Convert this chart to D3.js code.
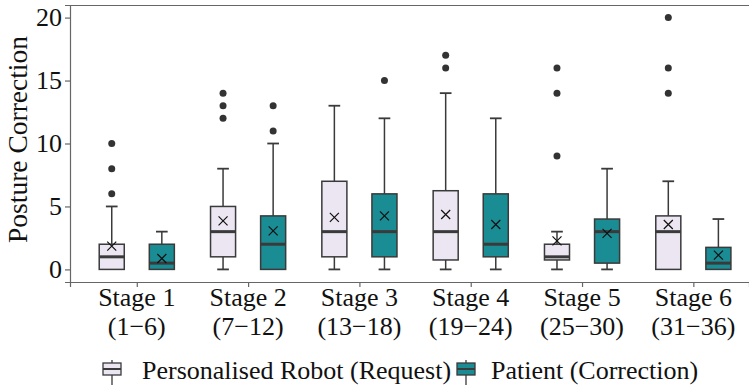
<!DOCTYPE html>
<html><head><meta charset="utf-8">
<script src="https://cdn.jsdelivr.net/npm/d3@7"></script>
</head><body style="margin:0"><svg id="c" width="749" height="386"></svg>
<script>
const stages = ["Stage 1|(1\u22126)","Stage 2|(7\u221212)","Stage 3|(13\u221218)","Stage 4|(19\u221224)","Stage 5|(25\u221230)","Stage 6|(31\u221236)"];
const seriesNames = ["Personalised Robot (Request)","Patient (Correction)"];
const seriesColors = ["#ebe6f2","#1a8c94"];
const yTicks = [0,5,10,15,20];
// [min whisker, Q1, median, Q3, max whisker, mean]
const robotStats = [
  [0,0,1,2,5,1.85],
  [0,1,3,5,8,3.86],
  [0,1,3,7,13,4.13],
  [0,0.75,3,6.25,14,4.36],
  [0,0.75,1,2,3,2.27],
  [0,0,3,4.25,7,3.57]
];
const robotOutliers = [[6,8,10],[12,13,14],[],[16,17],[9,14,16],[14,16,20]];
const patientStats = [
  [0,0,0.5,2,3,0.87],
  [0,0,2,4.25,10,3.06],
  [0,1,3,6,12,4.25],
  [0,1,2,6,12,3.57],
  [0,0.5,3,4,8,2.86],
  [0,0,0.5,1.75,4,1.13]
];
const patientOutliers = [[],[11,13],[15],[],[],[]];

const FONT="Liberation Serif";
const svg = d3.select("#c");
const L=70, R=749, T=5, B=282;
const x = d3.scaleLinear().domain([-0.6,5.5]).range([L,R]);
const y = d3.scaleLinear().domain([-1,21]).range([B,T]);
const unit = x(1)-x(0);
const off = 0.225*unit, bw = 0.225*unit, cap = 0.105*unit;
const edge="#3a3a3a";

function label(px,py,txt,size,anchor){
  return svg.append("text").attr("x",px).attr("y",py).attr("text-anchor",anchor)
    .style("font-family",FONT).style("font-size",size+"px").attr("fill","#111").text(txt);
}

// spines
svg.append("line").attr("x1",L).attr("x2",R).attr("y1",T+0.5).attr("y2",T+0.5).attr("stroke","#666").attr("stroke-width",1.2);
const yAxis = svg.append("g").attr("transform",`translate(${L},0)`).call(d3.axisLeft(y).tickValues(yTicks).tickSize(5).tickFormat(()=>""));
const xAxis = svg.append("g").attr("transform",`translate(0,${B})`).call(d3.axisBottom(x).tickValues(d3.range(stages.length)).tickSize(5).tickFormat(()=>""));
[yAxis,xAxis].forEach(g=>{g.select(".domain").attr("stroke","#666").attr("stroke-width",1.2);g.selectAll(".tick line").attr("stroke","#666").attr("stroke-width",1.2);});
yTicks.forEach(v=>label(L-8,y(v)+8.5,String(v),26,"end"));
stages.forEach((s,i)=>{
  const [a,b]=s.split("|");
  label(x(i),306,a,26,"middle");
  label(x(i),335,b,26,"middle");
});
svg.append("text").attr("transform",`translate(27,${(T+B)/2-4}) rotate(-90)`).attr("text-anchor","middle").style("font-family",FONT).style("font-size","27.5px").attr("fill","#111").text("Posture Correction");

function drawSeries(stats,outs,color,dir){
  const g=svg.append("g");
  stats.forEach((d,i)=>{
    const cx=x(i)+dir*off;
    const [mn,q1,md,q3,mx,mean]=d;
    if(mx>q3){g.append("line").attr("x1",cx).attr("x2",cx).attr("y1",y(q3)).attr("y2",y(mx)).attr("stroke",edge).attr("stroke-width",1.5);
      g.append("line").attr("x1",cx-cap/2).attr("x2",cx+cap/2).attr("y1",y(mx)).attr("y2",y(mx)).attr("stroke",edge).attr("stroke-width",1.8);}
    if(mn<q1){g.append("line").attr("x1",cx).attr("x2",cx).attr("y1",y(q1)).attr("y2",y(mn)).attr("stroke",edge).attr("stroke-width",1.5);
      g.append("line").attr("x1",cx-cap/2).attr("x2",cx+cap/2).attr("y1",y(mn)).attr("y2",y(mn)).attr("stroke",edge).attr("stroke-width",1.8);}
    g.append("rect").attr("x",cx-bw/2).attr("width",bw).attr("y",y(q3)).attr("height",y(q1)-y(q3)).attr("fill",color).attr("stroke",edge).attr("stroke-width",1.5);
    g.append("line").attr("x1",cx-bw/2).attr("x2",cx+bw/2).attr("y1",y(md)).attr("y2",y(md)).attr("stroke",edge).attr("stroke-width",3);
    const m=4.5, my=y(mean);
    g.append("path").attr("d",`M${cx-m},${my-m}L${cx+m},${my+m}M${cx-m},${my+m}L${cx+m},${my-m}`).attr("stroke","#111").attr("stroke-width",1.2).attr("fill","none");
    outs[i].forEach(v=>g.append("circle").attr("cx",cx).attr("cy",y(v)).attr("r",3.5).attr("fill","#333"));
  });
}
drawSeries(robotStats,robotOutliers,seriesColors[0],-1);
drawSeries(patientStats,patientOutliers,seriesColors[1],1);

// legend
const leg=[{x:103,tx:142},{x:457,tx:491}];
seriesNames.forEach((n,i)=>{
  const g=svg.append("g");
  const px=leg[i].x, w=18, cx=px+w/2;
  g.append("line").attr("x1",cx).attr("x2",cx).attr("y1",360).attr("y2",385).attr("stroke",edge).attr("stroke-width",1.3);
  g.append("rect").attr("x",px).attr("y",363).attr("width",w).attr("height",12).attr("fill",seriesColors[i]).attr("stroke",edge).attr("stroke-width",1.3);
  g.append("line").attr("x1",px).attr("x2",px+w).attr("y1",369).attr("y2",369).attr("stroke",edge).attr("stroke-width",2);
  label(leg[i].tx,379,n,26,"start");
});
</script></body></html>
